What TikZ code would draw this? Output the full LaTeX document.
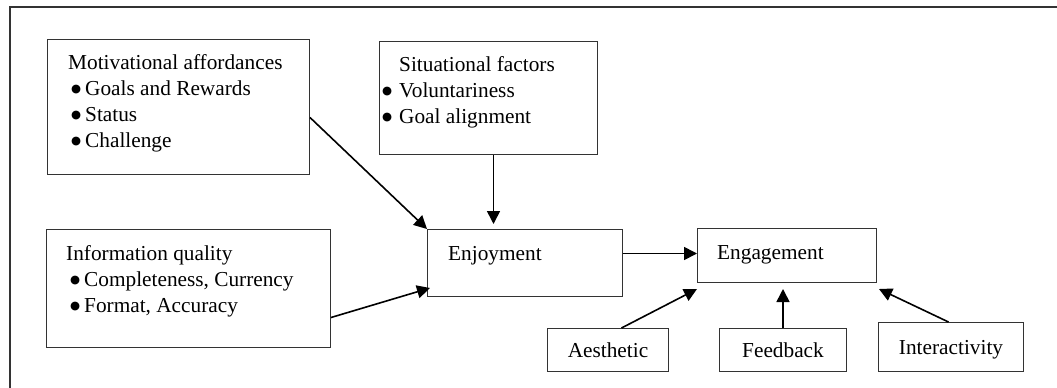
\documentclass[tikz,border=0pt]{standalone}
\usepackage{fontspec}
\setmainfont{Liberation Serif}
\newfontfamily\dejavu{DejaVu Sans}
\usetikzlibrary{arrows.meta}
\newcommand{\bigbul}{\raisebox{2.8pt}{\dejavu\fontsize{11.5}{11.5}\selectfont ●}}
\newcommand{\bul}[1]{\hspace*{#1}\makebox[14pt][l]{\bigbul}}
\begin{document}
\begin{tikzpicture}[x=1pt,y=-1pt,
  every node/.style={font=\fontsize{21.3}{26}\selectfont, inner sep=0pt},
  box/.style={draw=black!80, line width=1pt, rectangle, anchor=north west},
  small/.style={draw=black!80, line width=1pt, rectangle, anchor=north west, text height=16pt, text depth=1pt},
  txt/.style={anchor=base west, inner sep=0pt},
  arr/.style={-{Triangle[length=13pt,width=13pt]}, line width=1.6pt, black}]
\useasboundingbox (0,0) rectangle (1057,388);
% outer frame
\coordinate (fa) at (10,388);
\coordinate (fb) at (10,7);
\coordinate (fc) at (1057,7);
\draw[line width=1.2pt, black!80] (fa) -- (fb) -- (fc);

% boxes
\node[box, minimum width=262pt, minimum height=135pt] (mot) at (47,39) {};
\node[box, minimum width=218pt, minimum height=113pt] (sit) at (379,41) {};
\node[box, minimum width=284pt, minimum height=118pt] (info) at (46,229) {};
\node[box, minimum width=195pt, minimum height=67pt] (enj) at (427,229) {};
\node[box, minimum width=179pt, minimum height=54pt] (eng) at (697,228) {};
\node[small, minimum width=121pt, minimum height=43pt] (aes) at (547,328) {Aesthetic};
\node[small, minimum width=127pt, minimum height=43pt] (feed) at (719,328) {Feedback};
\node[small, minimum width=145pt, minimum height=49pt] (int) at (878,322) {Interactivity};

% texts
\node[txt] (mottxt) at (68,69) {\begin{tabular}[t]{@{}l@{}}Motivational affordances\\
  \bul{3pt}Goals and Rewards\\ \bul{3pt}Status\\ \bul{3pt}Challenge\end{tabular}};
\node[txt] (sittxt) at (382,71) {\begin{tabular}[t]{@{}l@{}}\hspace*{17pt}Situational factors\\
  \makebox[17pt][l]{\bigbul}Voluntariness\\ \makebox[17pt][l]{\bigbul}Goal alignment\end{tabular}};
\node[txt] (infotxt) at (66,260) {\begin{tabular}[t]{@{}l@{}}Information quality\\
  \bul{4pt}Completeness, Currency\\ \bul{4pt}Format, Accuracy\end{tabular}};
\node[txt] (enjtxt) at (448,260) {Enjoyment};
\node[txt] (engtxt) at (717,259) {Engagement};

% connectors
\draw[arr] ([yshift=-10.5pt]mot.east) -- (enj.north west);
\coordinate (ss) at ([xshift=5pt]sit.south);
\draw[arr, shorten >=5pt] (ss) -- (ss |- enj.north);
\draw[arr] ([yshift=-29pt]info.east) -- ([shift={(3pt,9pt)}]enj.south west);
\coordinate (ee) at ([yshift=9.5pt]enj.east);
\draw[arr] (ee) -- (ee -| eng.west);
\draw[arr] ([xshift=13.5pt]aes.north) -- ([yshift=-6pt]eng.south west);
\draw[arr, shorten >=6pt] (feed.north) -- (feed.north |- eng.south);
\draw[arr] ([xshift=-2.5pt]int.north) -- ([shift={(2pt,-6pt)}]eng.south east);
\end{tikzpicture}
\end{document}
